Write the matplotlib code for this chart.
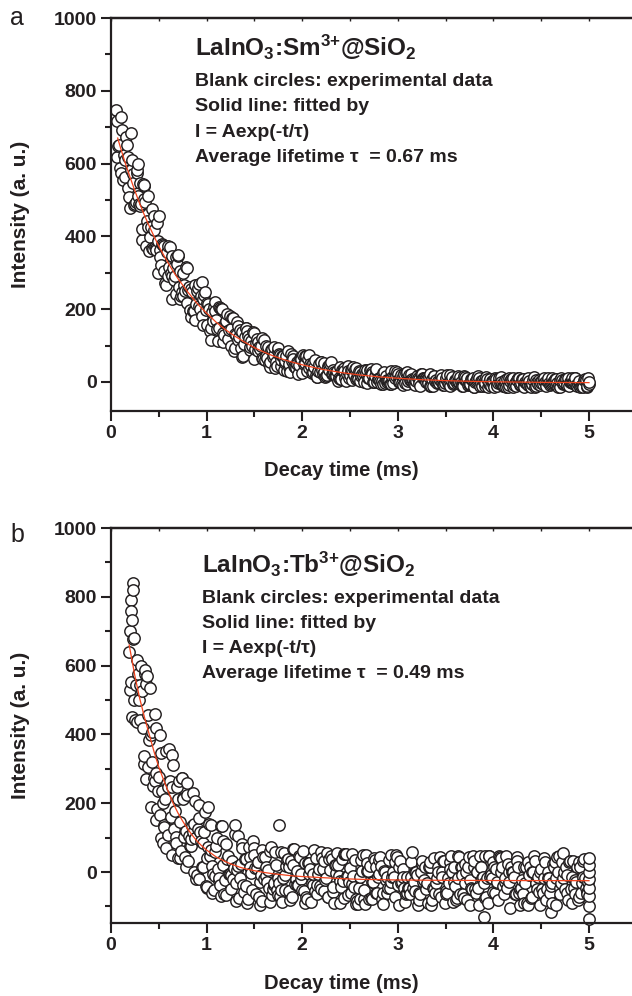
import matplotlib
matplotlib.use('Agg')
import matplotlib.pyplot as plt
import numpy as np
from matplotlib.ticker import MultipleLocator

plt.rcParams['font.family'] = ['Liberation Sans', 'DejaVu Sans']
plt.rcParams['font.weight'] = 'bold'
plt.rcParams['mathtext.fontset'] = 'custom'
plt.rcParams['mathtext.rm'] = 'Liberation Sans:bold'
plt.rcParams['mathtext.it'] = 'Liberation Sans:bold'
plt.rcParams['mathtext.bf'] = 'Liberation Sans:bold'

# ---- panel a: LaInO3:Sm3+@SiO2 decay, (time in ms, intensity)
decay_a = [
    (0.050, 746), (0.075, 647), (0.100, 729), (0.125, 556), (0.150, 611), (0.175, 619),
    (0.200, 479), (0.205, 685), (0.225, 571), (0.250, 489), (0.275, 581), (0.285, 600),
    (0.300, 482), (0.320, 390), (0.325, 421), (0.345, 540), (0.350, 502), (0.375, 443),
    (0.400, 359), (0.425, 474), (0.450, 417), (0.455, 455), (0.475, 362), (0.490, 300),
    (0.500, 457), (0.525, 320), (0.550, 373), (0.575, 266), (0.600, 373), (0.625, 299),
    (0.640, 228), (0.650, 313), (0.675, 242), (0.700, 345), (0.705, 350), (0.725, 305),
    (0.750, 237), (0.775, 250), (0.800, 312), (0.825, 198), (0.850, 246), (0.875, 170),
    (0.900, 251), (0.925, 209), (0.950, 182), (0.955, 275), (0.975, 240), (1.000, 157),
    (1.025, 201), (1.050, 115), (1.075, 206), (1.100, 171), (1.125, 147), (1.150, 200),
    (1.175, 109), (1.200, 165), (1.225, 117), (1.250, 145), (1.275, 176), (1.300, 94),
    (1.325, 116), (1.350, 142), (1.375, 69), (1.400, 123), (1.425, 139), (1.450, 87),
    (1.475, 98), (1.500, 63), (1.525, 118), (1.550, 97), (1.575, 67), (1.600, 114),
    (1.625, 72), (1.650, 48), (1.675, 88), (1.700, 75), (1.725, 55), (1.750, 92),
    (1.775, 44), (1.800, 72), (1.825, 57), (1.850, 84), (1.875, 26), (1.900, 70),
    (1.925, 42), (1.950, 50), (1.975, 67), (2.000, 25), (2.025, 51), (2.050, 31),
    (2.075, 73), (2.100, 25), (2.125, 42), (2.150, 14), (2.175, 48), (2.200, 55),
    (2.225, 28), (2.250, 15), (2.275, 39), (2.300, 55), (2.325, 21), (2.350, 28),
    (2.375, 3), (2.400, 40), (2.425, 30), (2.450, 11), (2.475, 44), (2.500, 19),
    (2.525, 4), (2.550, 36), (2.575, 10), (2.600, 27), (2.625, 21), (2.650, -1),
    (2.675, 34), (2.700, 12), (2.725, 26), (2.750, 1), (2.775, 35), (2.800, 12),
    (2.825, -7), (2.850, 24), (2.875, 17), (2.900, 5), (2.925, 29), (2.950, -4),
    (2.975, 10), (3.000, 23), (3.025, 1), (3.050, 15), (3.075, -4), (3.100, 28),
    (3.125, 4), (3.150, 9), (3.175, -9), (3.200, 17), (3.225, -3), (3.250, 19),
    (3.275, 10), (3.300, 0), (3.325, 13), (3.350, -12), (3.375, 16), (3.400, 5),
    (3.425, 2), (3.450, 18), (3.475, -9), (3.500, 9), (3.525, -4), (3.550, 19),
    (3.575, -6), (3.600, 6), (3.625, -1), (3.650, 14), (3.675, -12), (3.700, 4),
    (3.725, 10), (3.750, -8), (3.775, 8), (3.800, -15), (3.825, 6), (3.850, 11),
    (3.875, -4), (3.900, 1), (3.925, 14), (3.950, -6), (3.975, -11), (4.000, 3),
    (4.025, 8), (4.050, -2), (4.075, 14), (4.100, -10), (4.125, 5), (4.150, -15),
    (4.175, 2), (4.200, 11), (4.225, -3), (4.250, 6), (4.275, -8), (4.300, 8),
    (4.325, -13), (4.350, -1), (4.375, 2), (4.400, -5), (4.425, 14), (4.450, -12),
    (4.475, 6), (4.500, -3), (4.525, 3), (4.550, -10), (4.575, 11), (4.600, -7),
    (4.625, 0), (4.650, 9), (4.675, -15), (4.700, 5), (4.725, -5), (4.750, 7),
    (4.775, -9), (4.800, 1), (4.825, -3), (4.850, 12), (4.875, -12), (4.900, 3),
    (4.925, -8), (4.950, 6), (4.975, -14), (5.000, -1), (5.000, -6),
]

decay_a2 = [
    (0.058, 619), (0.083, 650), (0.108, 575), (0.133, 624), (0.158, 674),
    (0.183, 532), (0.208, 582), (0.233, 546), (0.258, 494), (0.283, 510),
    (0.308, 546), (0.333, 545), (0.358, 495), (0.383, 512), (0.408, 399),
    (0.433, 368), (0.458, 372), (0.483, 438), (0.508, 362), (0.533, 380),
    (0.558, 306), (0.583, 356), (0.608, 315), (0.633, 290), (0.658, 281),
    (0.683, 343), (0.708, 261), (0.733, 237), (0.758, 298), (0.783, 315),
    (0.808, 252), (0.833, 177), (0.858, 196), (0.883, 267), (0.908, 259),
    (0.933, 201), (0.958, 157), (0.983, 247), (1.008, 217), (1.033, 139),
    (1.058, 191), (1.083, 219), (1.108, 146), (1.133, 206), (1.158, 200),
    (1.183, 130), (1.208, 167), (1.233, 142), (1.258, 98), (1.283, 84),
    (1.308, 129), (1.333, 153), (1.358, 92), (1.383, 70), (1.408, 149),
    (1.433, 127), (1.458, 96), (1.483, 136), (1.508, 90), (1.533, 86),
    (1.558, 91), (1.583, 121), (1.608, 61), (1.633, 66), (1.658, 42),
    (1.683, 91), (1.708, 96), (1.733, 44), (1.758, 76), (1.783, 60),
    (1.808, 33), (1.833, 70), (1.858, 42), (1.883, 78), (1.908, 63),
    (1.933, 37), (1.958, 23), (1.983, 68), (2.008, 73), (2.033, 71),
    (2.058, 63), (2.083, 50), (2.108, 26), (2.133, 59), (2.158, 14),
    (2.183, 28), (2.208, 32), (2.233, 53), (2.258, 19), (2.283, 34),
    (2.308, 22), (2.333, 26), (2.358, 15), (2.383, 10), (2.408, 9),
    (2.433, 37), (2.458, 2), (2.483, 30), (2.508, 34), (2.533, 42),
    (2.558, 37), (2.583, 8), (2.608, 3), (2.633, 17), (2.658, 34),
    (2.683, -3), (2.708, 33), (2.733, 23), (2.758, 17), (2.783, -1),
    (2.808, 8), (2.833, 2), (2.858, 28), (2.883, 1), (2.908, 6),
    (2.933, -7), (2.958, 17), (2.983, 16), (3.008, 8), (3.033, 19),
    (3.058, -8), (3.083, 25), (3.108, 2), (3.133, 21), (3.158, 5),
    (3.183, 5), (3.208, 12), (3.233, -10), (3.258, 22), (3.283, 8),
    (3.308, 8), (3.333, -11), (3.358, 7), (3.383, 17), (3.408, -4),
    (3.433, -4), (3.458, -1), (3.483, -8), (3.508, 11), (3.533, -5),
    (3.558, 5), (3.583, -2), (3.608, 5), (3.633, 16), (3.658, 0),
    (3.683, -12), (3.708, 13), (3.733, -9), (3.758, -6), (3.783, 12),
    (3.808, -1), (3.833, 12), (3.858, -10), (3.883, -10), (3.908, -12),
    (3.933, 9), (3.958, -1), (3.983, 2), (4.008, -14), (4.033, -8),
    (4.058, 10), (4.083, -1), (4.108, -10), (4.133, -13), (4.158, -8),
    (4.183, 7), (4.208, -14), (4.233, -11), (4.258, 12), (4.283, -5),
    (4.308, 9), (4.333, 0), (4.358, -8), (4.383, -11), (4.408, -5),
    (4.433, -14), (4.458, 0), (4.483, 0), (4.508, 4), (4.533, 12),
    (4.558, 3), (4.583, -3), (4.608, -3), (4.633, 3), (4.658, -9),
    (4.683, -9), (4.708, 11), (4.733, -3), (4.758, 8), (4.783, 11),
    (4.808, 0), (4.833, -3), (4.858, 11), (4.883, -6), (4.908, -15),
    (4.933, -6), (4.958, 8), (4.983, -12),
]

decay_a3 = [
    (0.067, 718), (0.092, 588), (0.117, 692), (0.142, 563), (0.167, 651),
    (0.192, 507), (0.217, 610), (0.242, 487), (0.267, 573), (0.292, 489),
    (0.317, 488), (0.342, 539), (0.367, 373), (0.392, 425), (0.417, 426),
    (0.442, 364), (0.467, 367), (0.492, 386), (0.517, 343), (0.542, 376),
    (0.567, 272), (0.592, 292), (0.617, 371), (0.642, 345), (0.667, 291),
    (0.692, 324), (0.717, 229), (0.742, 248), (0.767, 267), (0.792, 217),
    (0.817, 262), (0.842, 255), (0.867, 194), (0.892, 213), (0.917, 269),
    (0.942, 235), (0.967, 228), (0.992, 197), (1.017, 215), (1.042, 148),
    (1.067, 166), (1.092, 195), (1.117, 111), (1.142, 204), (1.167, 135),
    (1.192, 161), (1.217, 187), (1.242, 182), (1.267, 176), (1.292, 131),
    (1.317, 165), (1.342, 123), (1.367, 138), (1.392, 105), (1.417, 147),
    (1.442, 117), (1.467, 112), (1.492, 135), (1.517, 106), (1.542, 110),
    (1.567, 98), (1.592, 62), (1.617, 100), (1.642, 97), (1.667, 56),
    (1.692, 68), (1.717, 38), (1.742, 84), (1.767, 75), (1.792, 72),
    (1.817, 51), (1.842, 30), (1.867, 48), (1.892, 58), (1.917, 44),
    (1.942, 54), (1.967, 46), (1.992, 62), (2.017, 49), (2.042, 70),
    (2.067, 39), (2.092, 44), (2.117, 53), (2.142, 18), (2.167, 29),
    (2.192, 54), (2.217, 21), (2.242, 14), (2.267, 44), (2.292, 48),
    (2.317, 32), (2.342, 15), (2.367, 30), (2.392, 9), (2.417, 32),
    (2.442, 31), (2.467, 21), (2.492, 10), (2.517, 33), (2.542, 19),
    (2.567, 8), (2.592, 31), (2.617, 17), (2.642, 25), (2.667, 24),
    (2.692, 10), (2.717, 36), (2.742, -1), (2.767, 34), (2.792, 8),
    (2.817, 3), (2.842, -6), (2.867, -2), (2.892, 6), (2.917, -6),
    (2.942, 13), (2.967, 29), (2.992, 28), (3.017, 0), (3.042, -4),
    (3.067, 22), (3.092, -5), (3.117, 18), (3.142, 6), (3.167, -6),
    (3.192, 2), (3.217, 9), (3.242, 22), (3.267, 11), (3.292, 11),
    (3.317, -3), (3.342, 21), (3.367, -10), (3.392, 3), (3.417, -1),
    (3.442, 6), (3.467, 12), (3.492, -4), (3.517, 18), (3.542, -12),
    (3.567, 14), (3.592, -2), (3.617, -2), (3.642, 0), (3.667, -6),
    (3.692, 16), (3.717, 4), (3.742, -6), (3.767, 7), (3.792, -13),
    (3.817, 3), (3.842, 15), (3.867, 3), (3.892, 6), (3.917, -4),
    (3.942, -13), (3.967, 9), (3.992, -5), (4.017, 11), (4.042, -11),
    (4.067, -4), (4.092, -7), (4.117, -4), (4.142, 7), (4.167, 10),
    (4.192, 4), (4.217, -8), (4.242, 6), (4.267, 12), (4.292, -2),
    (4.317, -5), (4.342, -2), (4.367, 12), (4.392, -14), (4.417, 6),
    (4.442, 4), (4.467, -5), (4.492, -8), (4.517, -5), (4.542, 0),
    (4.567, 9), (4.592, -8), (4.617, 12), (4.642, 9), (4.667, -3),
    (4.692, -14), (4.717, 6), (4.742, 0), (4.767, -5), (4.792, -11),
    (4.817, 12), (4.842, 0), (4.867, -8), (4.892, 0), (4.917, -11),
    (4.942, -14), (4.967, 4), (4.992, 12),
]

# fitted curve of panel a
fit_a = [
    (0.07, 670), (0.10, 643), (0.15, 601), (0.20, 562), (0.25, 525), (0.30, 490),
    (0.35, 458), (0.40, 428), (0.45, 400), (0.50, 373), (0.55, 349), (0.60, 326),
    (0.65, 304), (0.70, 284), (0.75, 266), (0.80, 248), (0.85, 232), (0.90, 216),
    (0.95, 202), (1.00, 189), (1.10, 164), (1.20, 143), (1.30, 125), (1.40, 109),
    (1.50, 94), (1.60, 82), (1.70, 71), (1.80, 62), (1.90, 54), (2.00, 47),
    (2.20, 35), (2.40, 26), (2.60, 19), (2.80, 14), (3.00, 10), (3.25, 6),
    (3.50, 3.5), (3.75, 1.6), (4.00, 0.3), (4.50, -1.3), (5.00, -2),
]

# ---- panel b: LaInO3:Tb3+@SiO2
decay_b = [
    (0.190, 640), (0.195, 530), (0.200, 700), (0.205, 790), (0.210, 760), (0.215, 450),
    (0.225, 840), (0.235, 820), (0.240, 680), (0.250, 442), (0.275, 617), (0.300, 441),
    (0.325, 525), (0.350, 338), (0.355, 575), (0.365, 270), (0.375, 569), (0.400, 384),
    (0.420, 190), (0.425, 407), (0.450, 272), (0.460, 460), (0.470, 150), (0.475, 419),
    (0.500, 275), (0.520, 100), (0.525, 345), (0.545, 85), (0.550, 136), (0.575, 352),
    (0.580, 70), (0.600, 247), (0.625, 159), (0.640, 50), (0.650, 312), (0.675, 103),
    (0.700, 213), (0.705, 40), (0.725, 146), (0.740, 272), (0.750, 216), (0.775, 43),
    (0.780, 15), (0.800, 258), (0.825, 77), (0.850, 133), (0.860, 229), (0.865, 0),
    (0.875, 98), (0.900, -8), (0.920, -20), (0.925, 156), (0.950, 16), (0.975, 117),
    (1.000, 41), (1.005, -45), (1.010, 188), (1.025, 140), (1.050, 65), (1.055, -60),
    (1.075, -51), (1.100, 77), (1.125, -25), (1.150, 134), (1.155, -70), (1.175, 22),
    (1.200, 83), (1.225, 48), (1.250, -49), (1.275, -19), (1.300, 136), (1.305, -85),
    (1.325, 17), (1.350, -16), (1.375, 71), (1.400, 39), (1.425, -89), (1.450, 45),
    (1.475, -52), (1.500, 51), (1.525, 11), (1.550, -73), (1.555, -95), (1.575, 64),
    (1.600, -19), (1.625, 16), (1.650, -47), (1.675, 74), (1.700, -39), (1.725, 20),
    (1.750, -66), (1.755, 136), (1.775, 59), (1.800, -16), (1.825, -9), (1.850, 38),
    (1.875, -82), (1.900, 21), (1.925, -35), (1.950, 4), (1.975, 43), (2.000, -53),
    (2.025, 27), (2.050, -78), (2.075, -6), (2.100, -31), (2.125, 65), (2.150, -63),
    (2.175, 8), (2.200, -48), (2.225, 32), (2.250, -17), (2.275, -73), (2.300, 46),
    (2.325, -42), (2.350, -2), (2.375, 22), (2.400, -91), (2.425, -27), (2.450, 53),
    (2.475, -68), (2.500, 12), (2.525, -36), (2.550, 36), (2.575, -85), (2.600, -13),
    (2.625, 3), (2.650, -53), (2.675, 27), (2.700, -78), (2.725, -30), (2.750, 42),
    (2.775, -62), (2.800, -6), (2.825, 18), (2.850, -94), (2.875, -22), (2.900, -46),
    (2.925, 50), (2.950, 1), (2.975, -71), (3.000, -39), (3.025, 33), (3.050, 9),
    (3.075, -87), (3.100, -15), (3.125, -63), (3.150, 57), (3.175, -55), (3.200, -8),
    (3.225, -80), (3.250, 24), (3.275, -24), (3.300, -48), (3.325, 16), (3.350, -96),
    (3.375, 40), (3.400, -32), (3.425, 0), (3.450, -72), (3.475, 32), (3.500, -56),
    (3.525, -16), (3.550, 8), (3.575, -88), (3.600, -40), (3.625, 48), (3.650, -64),
    (3.675, -8), (3.700, 24), (3.725, -80), (3.750, -24), (3.775, -48), (3.800, 32),
    (3.825, 0), (3.850, -96), (3.875, 16), (3.900, -32), (3.905, -130), (3.925, -72),
    (3.950, 48), (3.975, -8), (4.000, -57), (4.025, 8), (4.050, -81), (4.075, 40),
    (4.100, -41), (4.125, -16), (4.150, 24), (4.175, -105), (4.200, 0), (4.225, -65),
    (4.250, 31), (4.275, -49), (4.300, -24), (4.325, 15), (4.350, -89), (4.375, -8),
    (4.400, -73), (4.425, 47), (4.450, -33), (4.475, -57), (4.500, 8), (4.525, 40),
    (4.550, -81), (4.575, -16), (4.600, -41), (4.605, -115), (4.625, 24), (4.650, -97),
    (4.675, -1), (4.700, -65), (4.725, 55), (4.750, -49), (4.775, -8), (4.800, 31),
    (4.825, -89), (4.850, -24), (4.875, 15), (4.900, -73), (4.925, -33), (4.950, 39),
    (4.975, -57), (5.000, 0), (5.000, 40), (5.000, 20), (5.000, -20), (5.000, -45),
    (5.000, -70), (5.000, -100), (5.000, -135),
]

decay_b2 = [
    (0.208, 552), (0.233, 676), (0.258, 543), (0.283, 575), (0.308, 544),
    (0.333, 420), (0.358, 587), (0.383, 304), (0.408, 534), (0.433, 321),
    (0.458, 266), (0.483, 184), (0.508, 165), (0.533, 236), (0.558, 131),
    (0.583, 258), (0.608, 357), (0.633, 339), (0.658, 124), (0.683, 84),
    (0.708, 265), (0.733, 61), (0.758, 212), (0.783, 120), (0.808, 31),
    (0.833, 75), (0.858, 117), (0.883, 207), (0.908, 125), (0.933, 117),
    (0.958, 14), (0.983, 175), (1.008, -44), (1.033, 46), (1.058, 18),
    (1.083, 58), (1.108, 98), (1.133, -16), (1.158, 133), (1.183, -64),
    (1.208, -66), (1.233, -5), (1.258, -8), (1.283, 11), (1.308, -33),
    (1.333, 106), (1.358, 23), (1.383, -38), (1.408, 38), (1.433, -79),
    (1.458, 15), (1.483, 89), (1.508, 12), (1.533, 29), (1.558, -28),
    (1.583, -84), (1.608, 45), (1.633, -29), (1.658, 61), (1.683, -67),
    (1.708, -32), (1.733, -51), (1.758, -33), (1.783, -52), (1.808, 54),
    (1.833, 17), (1.858, -54), (1.883, 33), (1.908, 66), (1.933, -20),
    (1.958, -37), (1.983, -21), (2.008, 62), (2.033, -89), (2.058, 27),
    (2.083, 10), (2.108, -39), (2.133, -56), (2.158, -39), (2.183, -40),
    (2.208, 41), (2.233, -56), (2.258, 55), (2.283, 39), (2.308, 38),
    (2.333, -90), (2.358, 22), (2.383, -11), (2.408, -43), (2.433, -75),
    (2.458, 52), (2.483, -12), (2.508, -60), (2.533, -12), (2.558, -77),
    (2.583, -93), (2.608, -77), (2.633, 51), (2.658, -93), (2.683, 3),
    (2.708, 18), (2.733, -78), (2.758, 34), (2.783, -62), (2.808, 34),
    (2.833, -78), (2.858, 2), (2.883, -62), (2.908, 34), (2.933, -30),
    (2.958, -14), (2.983, 49), (3.008, -95), (3.033, -31), (3.058, -15),
    (3.083, -63), (3.108, -47), (3.133, -15), (3.158, -47), (3.183, 1),
    (3.208, -96), (3.233, -64), (3.258, 32), (3.283, 16), (3.308, -32),
    (3.333, 16), (3.358, -80), (3.383, -48), (3.408, -16), (3.433, -64),
    (3.458, 0), (3.483, 32), (3.508, -64), (3.533, -32), (3.558, 48),
    (3.583, 16), (3.608, -80), (3.633, -16), (3.658, 16), (3.683, -64),
    (3.708, -32), (3.733, 16), (3.758, -96), (3.783, 48), (3.808, -48),
    (3.833, 0), (3.858, 48), (3.883, -16), (3.908, 48), (3.933, -16),
    (3.958, 48), (3.983, -16), (4.008, 16), (4.033, -32), (4.058, 48),
    (4.083, 0), (4.108, -64), (4.133, 48), (4.158, 0), (4.183, 16),
    (4.208, 0), (4.233, -64), (4.258, 16), (4.283, -96), (4.308, -64),
    (4.333, -32), (4.358, -96), (4.383, 16), (4.408, 0), (4.433, 32),
    (4.458, -48), (4.483, -96), (4.508, -48), (4.533, -16), (4.558, -48),
    (4.583, -16), (4.608, -32), (4.633, 16), (4.658, -16), (4.683, 48),
    (4.708, -32), (4.733, -16), (4.758, 16), (4.783, -80), (4.808, -48),
    (4.833, 32), (4.858, -64), (4.883, -80), (4.908, 16), (4.933, 32),
    (4.958, -16), (4.983, -64),
]

decay_b3 = [
    (0.217, 733), (0.242, 501), (0.267, 435), (0.292, 499), (0.317, 599),
    (0.342, 314), (0.367, 546), (0.392, 456), (0.417, 399), (0.442, 249),
    (0.467, 288), (0.492, 236), (0.517, 397), (0.542, 200), (0.567, 213),
    (0.592, 109), (0.617, 265), (0.642, 247), (0.667, 177), (0.692, 247),
    (0.717, 40), (0.742, 274), (0.767, 101), (0.792, 224), (0.817, 106),
    (0.842, 97), (0.867, 139), (0.892, -19), (0.917, 196), (0.942, 90),
    (0.967, 84), (0.992, -41), (1.017, 73), (1.042, 137), (1.067, -6),
    (1.092, -10), (1.117, 8), (1.142, -38), (1.167, 89), (1.192, -23),
    (1.217, 39), (1.242, -6), (1.267, 32), (1.292, 112), (1.317, 7),
    (1.342, -75), (1.367, 82), (1.392, -58), (1.417, -40), (1.442, 74),
    (1.467, -3), (1.492, 70), (1.517, -63), (1.542, 29), (1.567, -9),
    (1.592, 45), (1.617, -11), (1.642, 6), (1.667, -86), (1.692, -50),
    (1.717, 57), (1.742, -16), (1.767, -69), (1.792, -87), (1.817, -53),
    (1.842, 35), (1.867, 16), (1.892, -71), (1.917, 66), (1.942, -37),
    (1.967, 47), (1.992, -5), (2.017, -55), (2.042, -72), (2.067, 27),
    (2.092, -88), (2.117, -7), (2.142, 42), (2.167, -7), (2.192, 57),
    (2.217, 8), (2.242, -24), (2.267, -73), (2.292, 7), (2.317, -58),
    (2.342, 22), (2.367, 54), (2.392, -27), (2.417, 37), (2.442, 53),
    (2.467, -12), (2.492, -28), (2.517, 52), (2.542, -44), (2.567, -93),
    (2.592, -45), (2.617, 35), (2.642, -77), (2.667, 51), (2.692, 3),
    (2.717, -76), (2.742, -30), (2.767, 15), (2.792, -15), (2.817, 45),
    (2.842, -61), (2.867, 0), (2.892, -15), (2.917, -45), (2.942, -15),
    (2.967, 30), (2.992, 45), (3.017, 15), (3.042, -30), (3.067, -45),
    (3.092, -61), (3.117, -45), (3.142, 30), (3.167, -30), (3.192, 0),
    (3.217, -61), (3.242, 0), (3.267, -30), (3.292, -45), (3.317, -91),
    (3.342, 30), (3.367, -45), (3.392, -61), (3.417, 15), (3.442, 45),
    (3.467, -15), (3.492, -91), (3.517, -61), (3.542, 30), (3.567, 0),
    (3.592, -30), (3.617, -76), (3.642, 45), (3.667, 15), (3.692, -76),
    (3.717, 0), (3.742, 45), (3.767, -45), (3.792, 15), (3.817, -61),
    (3.842, -45), (3.867, 15), (3.892, -15), (3.917, -76), (3.942, -91),
    (3.967, -15), (3.992, 30), (4.017, -61), (4.042, -30), (4.067, 45),
    (4.092, 15), (4.117, -30), (4.142, -45), (4.167, -30), (4.192, 0),
    (4.217, -15), (4.242, 45), (4.267, -61), (4.292, -45), (4.317, -91),
    (4.342, 15), (4.367, 30), (4.392, -76), (4.417, 0), (4.442, -30),
    (4.467, -15), (4.492, 0), (4.517, -61), (4.542, 30), (4.567, 0),
    (4.592, -61), (4.617, -91), (4.642, 30), (4.667, 45), (4.692, -45),
    (4.717, 30), (4.742, 0), (4.767, -61), (4.792, 30), (4.817, -15),
    (4.842, -45), (4.867, -30), (4.892, 30), (4.917, -61), (4.942, -15),
    (4.967, -45), (4.992, -30),
]

fit_b = [
    (0.19, 660), (0.25, 570), (0.30, 505), (0.35, 450), (0.40, 400), (0.45, 350),
    (0.50, 305), (0.55, 268), (0.60, 233), (0.65, 200), (0.70, 172), (0.75, 148),
    (0.80, 126), (0.85, 107), (0.90, 90), (0.95, 76), (1.00, 64), (1.05, 54),
    (1.10, 44), (1.15, 37), (1.20, 30), (1.25, 24), (1.30, 19), (1.35, 14),
    (1.40, 10), (1.50, 4), (1.60, -1), (1.70, -5), (1.80, -8), (1.90, -11),
    (2.00, -13), (2.20, -16), (2.40, -19), (2.60, -21), (2.80, -22), (3.00, -23),
    (3.50, -24), (4.00, -24.5), (5.00, -25),
]

titles = [r'LaInO$_3$:Sm$^{3{+}}$@SiO$_2$', r'LaInO$_3$:Tb$^{3{+}}$@SiO$_2$']
lifetimes = ['0.67', '0.49']
panel_letters = ['a', 'b']
x_ticks = [0, 1, 2, 3, 4, 5]
y_ticks = [0, 200, 400, 600, 800, 1000]

W, H = 632, 996
ink = '#231f20'
fig = plt.figure(figsize=(W / 100, H / 100), dpi=100)

# pixel boxes (left, top, bottom) of the two panels; right side runs off the page
boxes = [(111, 18, 411), (111, 528, 923)]
ylims = [(-80, 1000), (-148, 1000)]
text_pos = [(195, [56, 86, 111, 137, 162]), (202, [573, 603, 628, 653, 678])]
xlabel_y = [471, 983]
letter_y = [18, 535]
datasets = [(decay_a + decay_a2 + decay_a3, fit_a),
            (decay_b + decay_b2 + decay_b3, fit_b)]

for i in range(2):
    left, top, bottom = boxes[i]
    ax = fig.add_axes([left / W, 1 - bottom / H, (W - left) / W, (bottom - top) / H])
    data, fit = datasets[i]
    d = np.array(sorted(data))      # acquisition order
    f = np.array(fit)
    ax.plot(d[:, 0], d[:, 1], 'o', ms=8.2, mfc='white', mec=ink, mew=1.05,
            ls='none', zorder=2, clip_on=False)
    ax.plot(f[:, 0], f[:, 1], color='#f2431d', lw=0.9, zorder=3)

    ax.set_xlim(0, (W - left) / 95.6)
    ax.set_ylim(*ylims[i])
    ax.set_xticks(x_ticks)
    ax.set_yticks(y_ticks)
    ax.xaxis.set_minor_locator(MultipleLocator(0.5))
    ax.yaxis.set_minor_locator(MultipleLocator(100))
    ax.tick_params(which='major', direction='out', length=7, width=1.5,
                   labelsize=14, pad=3, colors=ink)
    ax.tick_params(which='minor', direction='out', length=4, width=1.5, colors=ink)
    for s in ['left', 'bottom', 'top']:
        ax.spines[s].set_linewidth(1.6)
        ax.spines[s].set_color(ink)
    ax.spines['right'].set_visible(False)

    sec = ax.secondary_xaxis('top')
    sec.set_xticks(x_ticks)
    sec.set_xticklabels([])
    sec.xaxis.set_minor_locator(MultipleLocator(0.5))
    sec.tick_params(which='both', direction='in', length=2.5, width=1.0, colors=ink)
    sec.spines['top'].set_linewidth(1.6)

    fig.text(21 / W, 1 - (top + bottom) / 2 / H, 'Intensity (a. u.)', rotation=90,
             fontsize=15, ha='center', va='center', color=ink)
    fig.text(341 / W, 1 - xlabel_y[i] / H, 'Decay time (ms)', fontsize=14.5,
             ha='center', va='center', color=ink)

    tx, ys = text_pos[i]
    fig.text(tx / W, 1 - ys[0] / H, titles[i], fontsize=17.5, va='baseline', color=ink)
    lines = ['Blank circles: experimental data', 'Solid line: fitted by',
             'I = Aexp(-t/\u03c4)', 'Average lifetime \u03c4  = ' + lifetimes[i] + ' ms']
    for ln, yy in zip(lines, ys[1:]):
        fig.text(tx / W, 1 - yy / H, ln, fontsize=14, va='baseline', color=ink)

    fig.text(17 / W, 1 - letter_y[i] / H, panel_letters[i], fontsize=18,
             fontweight='normal', ha='center', va='center', color=ink)

fig.savefig('out.png', dpi=100)
